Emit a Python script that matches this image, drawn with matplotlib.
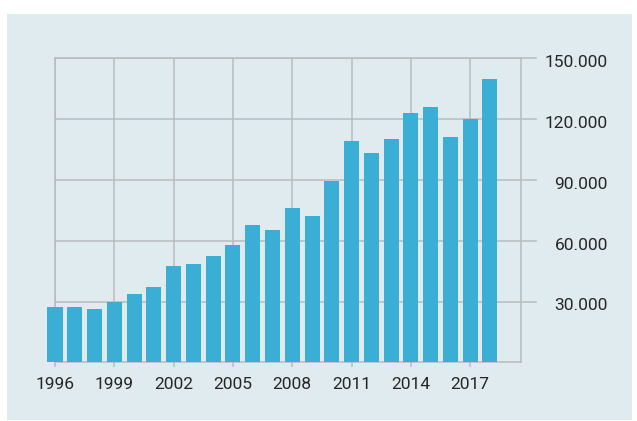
import matplotlib
matplotlib.use("Agg")
import matplotlib.pyplot as plt
from matplotlib.patches import Rectangle
from matplotlib.ticker import FuncFormatter
from matplotlib.transforms import ScaledTranslation

years = list(range(1996, 2019))
values = [27300, 27300, 26300, 29700, 33700, 37100, 47500, 48500, 52400, 57900,
          67700, 65300, 76100, 72200, 89400, 109100, 103200, 110100, 123000,
          126000, 111100, 120000, 139800]
year_ticks = [1996, 1999, 2002, 2005, 2008, 2011, 2014, 2017]
value_ticks = [30000, 60000, 90000, 120000, 150000]

BAR = "#3aaed5"
PANEL = "#e0ebef"
GRID = "#b8bbbd"
TEXT = "#262626"

plt.rcParams["font.family"] = ["Roboto", "DejaVu Sans"]

fig = plt.figure(figsize=(6.37, 4.21), dpi=100, facecolor="white")
fig.patches.append(Rectangle((7 / 637, 1 / 421), 625 / 637, 406 / 421,
                             transform=fig.transFigure, facecolor=PANEL,
                             edgecolor="none", zorder=-10))

ax = fig.add_axes([55 / 637, 58.7 / 421, 466 / 637, 304 / 421])
ax.set_facecolor("none")

ax.bar(years, values, width=0.76, color=BAR, zorder=3, clip_on=False)

ax.set_xlim(1996, 2019.57)
ax.set_ylim(0, 150000)

ax.set_xticks(year_ticks)
ax.set_yticks(value_ticks)
ax.yaxis.set_major_formatter(FuncFormatter(lambda v, p: f"{v / 1000:.0f}.000"))

ax.grid(True, color=GRID, linewidth=1.1, zorder=1)
for s in ax.spines.values():
    s.set_color(GRID)
    s.set_linewidth(1.1)

ax.yaxis.tick_right()
ax.tick_params(axis="y", length=11.5, width=1.1, color=GRID, pad=51,
               labelsize=12.5, labelcolor=TEXT)
ax.tick_params(axis="x", length=3.5, width=1.1, color=GRID, pad=7,
               labelsize=12.5, labelcolor=TEXT)

# labels on the right sit a little below their gridlines
shift = ScaledTranslation(0, -3 / 100, fig.dpi_scale_trans)
for lab in ax.get_yticklabels():
    lab.set_ha("right")
    lab.set_transform(lab.get_transform() + shift)

fig.savefig("out.png", dpi=100, facecolor="white")
